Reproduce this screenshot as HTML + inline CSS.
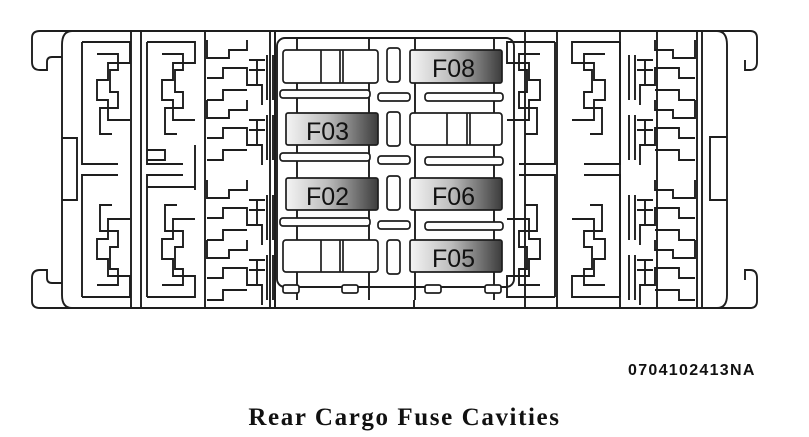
<!DOCTYPE html>
<html><head><meta charset="utf-8"><style>
html,body{margin:0;padding:0;background:#fff;width:809px;height:437px;overflow:hidden}
svg{position:absolute;left:0;top:0}
.t1{position:absolute;left:628px;top:362px;font:bold 16px "Liberation Sans",sans-serif;color:#111;letter-spacing:1.3px}
.t2{position:absolute;left:0;width:809px;top:404px;text-align:center;font:bold 25px "Liberation Serif",serif;color:#111;letter-spacing:1.6px}
</style></head><body>
<svg width="809" height="437" viewBox="0 0 809 437">
<defs>
<linearGradient id="g" x1="0" x2="1" y1="0" y2="0">
<stop offset="0" stop-color="#f4f4f4"/><stop offset="0.45" stop-color="#bdbdbd"/><stop offset="1" stop-color="#3c3c3c"/>
</linearGradient>
<g id="mz" fill="none">
<path d="M0,0 H48 V21 H26 V38 H15 V58 H26 V78 H48"/>
<path d="M0,0 V122 H36"/>
<path d="M15,12 H36 V28 H28 V50 H36 V66 H18 V92 H30"/>
</g>
<g id="tt" fill="none">
<path d="M0,0 V18 H22 V10 H40 V0"/>
<path d="M0,38 H16 V28 H40 V45 H55 V65"/>
<path d="M0,60 H16 V50 H40"/>
<path d="M42,20 H58 M42,30 H58 M50,20 V45"/>
<path d="M60,15 V60 M66,15 V60"/>
</g>
</defs>
<g stroke="#1e1e1e" stroke-width="1.9" fill="none">
<path d="M62,31 H750 Q757,31 757,38 V62 Q757,70 750,70 H745 V60"/>
<path d="M62,308 H750 Q757,308 757,301 V278 Q757,270 750,270 H745 V280"/>
<path d="M62,31 H40 Q32,31 32,38 V62 Q32,70 40,70 H47 V62 Q47,57 52,57 H62"/>
<path d="M62,308 H40 Q32,308 32,301 V278 Q32,270 40,270 H47 V278 Q47,283 52,283 H62"/>
<path d="M72,31 Q62,31 62,45 V295 Q62,308 72,308"/>
<path d="M717,31 Q727,31 727,45 V295 Q727,308 717,308"/>
<path d="M62,138 H77 V200 H62"/>
<path d="M727,137 H710 V200 H727"/>
<path d="M697,31 V308 M702,31 V308"/>
<path d="M131,31 V308 M141,31 V308"/>
<path d="M205,31 V308 M270,31 V308 M275,31 V308"/>
<path d="M557,31 V308 M620,31 V308 M657,31 V308"/>
<use href="#mz" x="82" y="42"/>
<use href="#mz" transform="translate(82,297) scale(1,-1)"/>
<use href="#mz" x="147" y="42"/>
<use href="#mz" transform="translate(147,297) scale(1,-1)"/>
<use href="#mz" transform="translate(555,42) scale(-1,1)"/>
<use href="#mz" transform="translate(555,297) scale(-1,-1)"/>
<use href="#mz" transform="translate(620,42) scale(-1,1)"/>
<use href="#mz" transform="translate(620,297) scale(-1,-1)"/>
<path d="M147,150 H165 V160 H147 M195,145 V190 M147,187 H195"/>
<use href="#tt" x="207" y="40"/>
<use href="#tt" x="207" y="100"/>
<use href="#tt" x="207" y="180"/>
<use href="#tt" x="207" y="240"/>
<use href="#tt" transform="translate(695,40) scale(-1,1)"/>
<use href="#tt" transform="translate(695,100) scale(-1,1)"/>
<use href="#tt" transform="translate(695,180) scale(-1,1)"/>
<use href="#tt" transform="translate(695,240) scale(-1,1)"/>
<path d="M275,31 V308 M525,31 V308"/>
<rect x="277" y="38" width="237" height="249" rx="8"/>
<path d="M297,38 V300 M369,38 V300 M415,38 V300 M494,38 V300"/>
<path d="M414,300 V308"/>
</g>
<g stroke="#1e1e1e" stroke-width="1.7" fill="#fff">
<rect x="283" y="50" width="95" height="33" rx="3"/>
<rect x="410" y="113" width="92" height="32" rx="3"/>
<rect x="283" y="240" width="95" height="32" rx="3"/>
<rect x="387" y="48" width="13" height="34" rx="3"/>
<rect x="387" y="112" width="13" height="34" rx="3"/>
<rect x="387" y="176" width="13" height="34" rx="3"/>
<rect x="387" y="240" width="13" height="34" rx="3"/>
<rect x="378" y="93" width="32" height="8" rx="3"/>
<rect x="378" y="156" width="32" height="8" rx="3"/>
<rect x="378" y="221" width="32" height="8" rx="3"/>
<rect x="280" y="90" width="90" height="8" rx="3"/>
<rect x="280" y="153" width="90" height="8" rx="3"/>
<rect x="280" y="218" width="90" height="8" rx="3"/>
<rect x="425" y="93" width="78" height="8" rx="3"/>
<rect x="425" y="157" width="78" height="8" rx="3"/>
<rect x="425" y="222" width="78" height="8" rx="3"/>
<rect x="283" y="285" width="16" height="8" rx="2"/>
<rect x="342" y="285" width="16" height="8" rx="2"/>
<rect x="425" y="285" width="16" height="8" rx="2"/>
<rect x="485" y="285" width="16" height="8" rx="2"/>
</g>
<g stroke="#1e1e1e" stroke-width="1.7" fill="none">
<path d="M321,50 V83 M340,50 V83 M343,50 V83"/>
<path d="M447,113 V145 M467,113 V145 M470,113 V145"/>
<path d="M321,240 V272 M340,240 V272 M343,240 V272"/>
</g>
<g stroke="#1e1e1e" stroke-width="1.7" fill="url(#g)">
<rect x="410" y="50" width="92" height="33" rx="2"/>
<rect x="286" y="113" width="92" height="32" rx="2"/>
<rect x="286" y="178" width="92" height="32" rx="2"/>
<rect x="410" y="178" width="92" height="32" rx="2"/>
<rect x="410" y="240" width="92" height="32" rx="2"/>
</g>
<g font-family="Liberation Sans, sans-serif" font-size="25" fill="#111">
<text x="432" y="77">F08</text>
<text x="306" y="140">F03</text>
<text x="306" y="205">F02</text>
<text x="432" y="205">F06</text>
<text x="432" y="267">F05</text>
</g>
</svg>
<div class="t1">0704102413NA</div>
<div class="t2">Rear Cargo Fuse Cavities</div>
</body></html>
